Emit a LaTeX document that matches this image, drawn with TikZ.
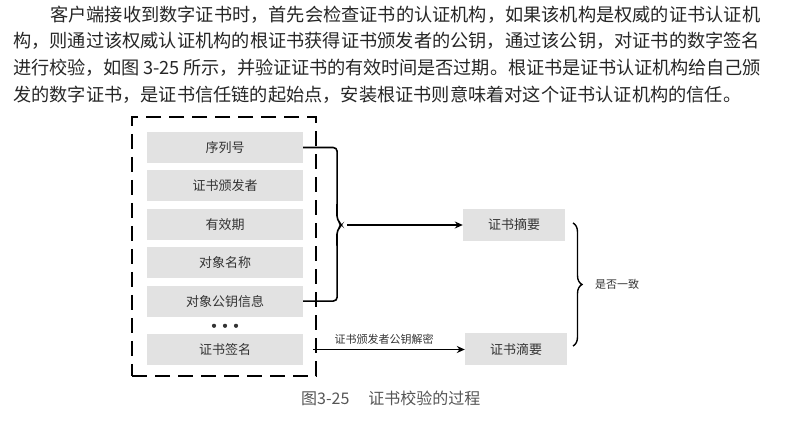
\documentclass[tikz,border=0pt]{standalone}
\usepackage{fontspec}
\setmainfont{Noto Sans CJK SC}
\usetikzlibrary{arrows.meta,positioning,calc,decorations.pathreplacing}
\XeTeXlinebreaklocale "zh"
\XeTeXlinebreakskip=0pt plus 2pt minus 1pt
\definecolor{hei}{RGB}{38,38,38}
\definecolor{huik}{RGB}{226,226,226}
\definecolor{zi}{RGB}{51,51,51}
\definecolor{tizi}{RGB}{85,85,85}
\tikzset{
  hang/.style={anchor=west, inner sep=0pt, align=justify, font=\fontsize{18.2}{18.2}\selectfont, text=hei},
  kuai/.style={fill=huik, minimum width=156pt, minimum height=31pt, inner sep=0pt, font=\fontsize{13}{13}\selectfont, text=zi},
  zhaiyao/.style={kuai, minimum width=102pt, minimum height=32pt},
  kuang/.style={draw=black, line width=2.6pt, dash pattern=on 15pt off 8pt},
  xian/.style={line width=1.6pt, rounded corners=4pt},
  jt/.style={-{Stealth[length=8pt,width=7pt]}, line width=1.6pt},
  kuohao/.style={decorate, decoration={brace, amplitude=9pt}, line width=1.4pt},
  biao/.style={font=\fontsize{11}{11}\selectfont, text=zi, inner sep=1pt},
  tiz/.style={anchor=west, inner sep=0pt, font=\fontsize{16}{16}\selectfont, text=tizi},
}

\begin{document}
\begin{tikzpicture}[x=1pt,y=1pt]
  \useasboundingbox (0,0) rectangle (810,441);
  % paragraph
  \node[hang, text width=710pt] (h1) at (50,426) {\parfillskip=0pt 客户端接收到数字证书时，首先会检查证书的认证机构，如果该机构是权威的证书认证机\par};
  \node[hang, text width=747pt] (h2) at (13,400) {\parfillskip=0pt 构，则通过该权威认证机构的根证书获得证书颁发者的公钥，通过该公钥，对证书的数字签名\par};
  \node[hang, text width=747pt] (h3) at (13,373) {\parfillskip=0pt 进行校验，如图 3-25 所示，并验证证书的有效时间是否过期。根证书是证书认证机构给自己颁\par};
  \node[hang, align=left] (h4) at (13,346) {发的数字证书，是证书信任链的起始点，安装根证书则意味着对这个证书认证机构的信任。};

  % certificate fields
  \node[kuang, minimum width=184pt, minimum height=259pt] (zs) at (224,194.5) {};
  \node[kuai] (xlh) at (225,293.5) {序列号};
  \node[kuai, below=7pt of xlh] (bfz) {证书颁发者};
  \node[kuai, below=7pt of bfz] (yxq) {有效期};
  \node[kuai, below=7pt of yxq] (dxmc) {对象名称};
  \node[kuai, below=7pt of dxmc] (gyxx) {对象公钥信息};
  \node[kuai, below=17pt of gyxx] (qm) {证书签名};
  \coordinate[below=9pt of gyxx] (dd);
  \foreach \i in {-1,0,1}
    \fill[zi] ($(dd)+(\i*11,0)$) circle (2.1pt);

  % digests
  \node[zhaiyao] (zy1) at (514,216) {证书摘要};
  \node[zhaiyao] (zy2) at (516,0 |- qm) {证书滴要};

  % left bracket and arrows
  \coordinate (jian) at (342,216);
  \draw[xian] (xlh.east) -- ++(34,0) coordinate (ys) -- ($(jian)+(-5,5)$) -- (jian)
    -- ($(jian)+(-5,-5)$) -- (ys |- gyxx.east) -- (gyxx.east);
  \coordinate (qi) at (347,216);
  \draw[jt] (qi) -- (zy1.west);
  \draw[jt, shorten <=10pt] (qm.east) -- node[biao, above=3pt] {证书颁发者公钥解密} (zy2.west);

  % right brace
  \coordinate (ks) at (573,218);
  \coordinate (ke) at (573,95);
  \draw[kuohao] (ks) -- (ke);
  \node[biao, anchor=west] (yz) at (594,156.5) {是否一致};

  % caption
  \node[tiz] (tt) at (301,43) {图3-25\hspace{19pt}证书校验的过程};
\end{tikzpicture}
\end{document}
